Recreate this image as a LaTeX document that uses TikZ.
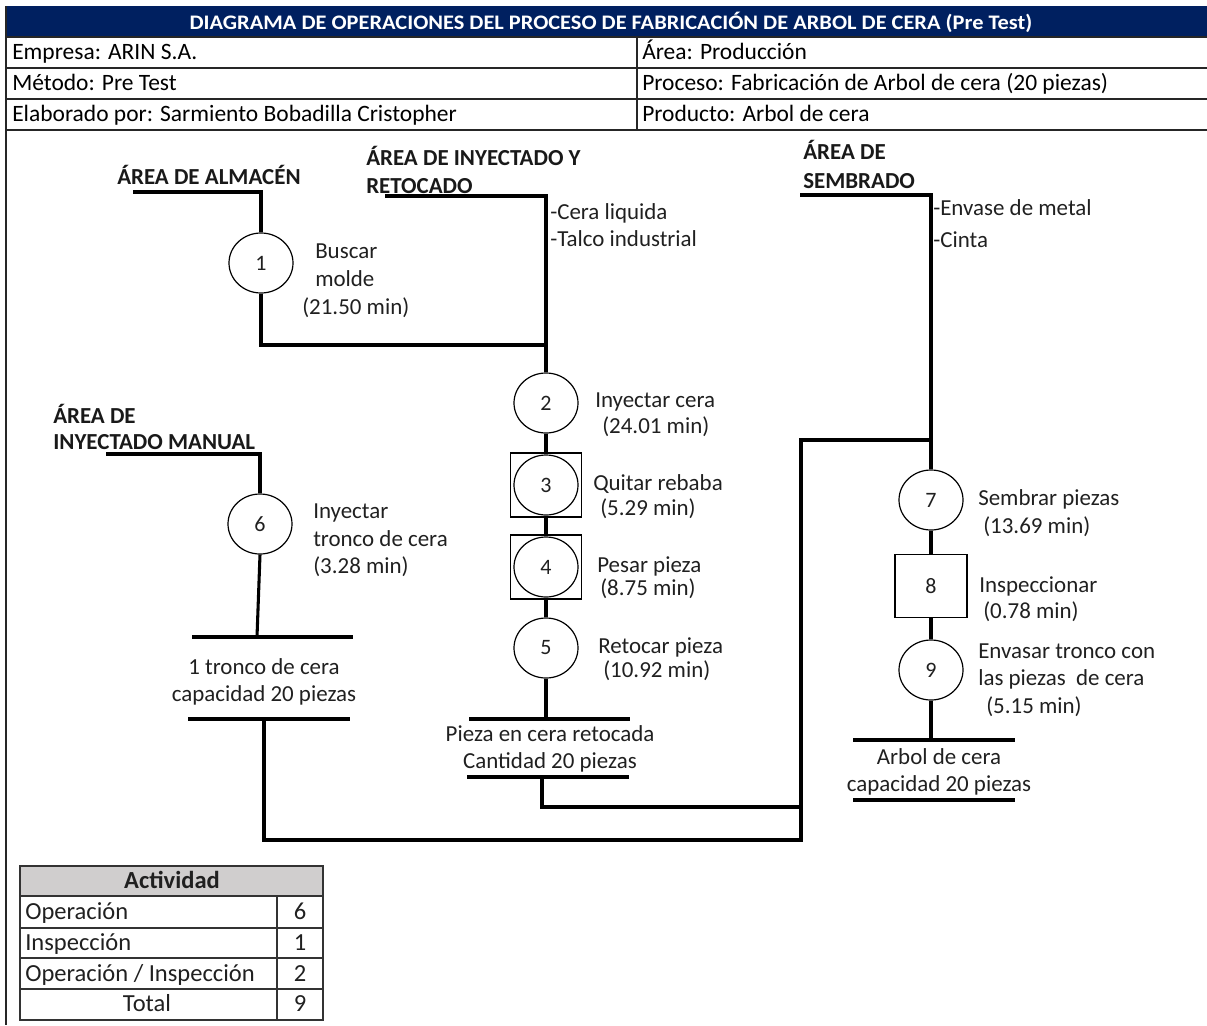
\documentclass[tikz,border=0pt]{standalone}
\usepackage{fontspec}
\usepackage{graphicx}
\setmainfont{Carlito}
\usetikzlibrary{shapes.geometric,calc}
\definecolor{navy}{HTML}{002060}
\definecolor{hdrgray}{HTML}{D0CECE}
\definecolor{txt}{HTML}{202020}
\begin{document}
\begin{tikzpicture}[x=0.75pt,y=-0.75pt,
  flow/.style={line width=2.3pt},
  grid/.style={line width=0.8pt,draw=black!85},
  tabline/.style={line width=1.1pt,draw=black!80},
  opnode/.style={ellipse,draw,line width=0.9pt,minimum width=48pt,minimum height=45pt,inner sep=0pt,fill=white,font=\fontsize{16.5}{19}\selectfont,text=txt},
  inspnode/.style={rectangle,draw,line width=0.9pt,minimum width=53.5pt,minimum height=48pt,inner sep=0pt,font=\fontsize{16.5}{19}\selectfont,text=txt},
  lbl/.style={anchor=west,inner sep=0pt,text height=12pt,text depth=2pt,font=\fontsize{17.2}{20}\selectfont,text=txt},
  clbl/.style={lbl,anchor=center},
  arealbl/.style={anchor=west,inner sep=0pt,text height=12pt,text depth=2pt,font=\bfseries\fontsize{17.2}{20}\selectfont,text=black!90},
  hdr/.style={anchor=west,inner sep=0pt,text height=12pt,text depth=2pt,font=\fontsize{17.6}{20}\selectfont,text=black},
  tab/.style={anchor=west,inner sep=0pt,text height=12pt,text depth=2pt,font=\fontsize{18.4}{20}\selectfont,text=txt},
  ctab/.style={tab,anchor=center}
]
\useasboundingbox (0,0) rectangle (1207,1025);

% ---------- header ----------
\fill[navy] (5,6) rectangle (1207,37);
\node[text=white,font=\bfseries\fontsize{15.5}{18}\selectfont,inner sep=0pt] (title) at (611,22)
  {\resizebox{632pt}{\height}{DIAGRAMA DE OPERACIONES DEL PROCESO DE FABRICACIÓN DE ARBOL DE CERA (Pre Test)}};
\foreach \yy in {37,68,99,130} \draw[grid] (5,\yy) -- (1207,\yy);
\draw[grid] (637,37) -- (637,130);
\draw[grid] (6,6) -- (6,1025);
\node[hdr] (emp) at (12,53) {Empresa: ARIN S.A.};
\node[hdr] (met) at (12,84) {Método: Pre Test};
\node[hdr] (ela) at (12,115) {Elaborado por: Sarmiento Bobadilla Cristopher};
\node[hdr] (are) at (642,53) {Área: Producción};
\node[hdr] (pro) at (642,84) {Proceso: Fabricación de Arbol de cera (20 piezas)};
\node[hdr] (prd) at (642,115) {Producto: Arbol de cera};

% ---------- area labels ----------
\node[arealbl] (alm) at (117,178) {ÁREA DE ALMACÉN};
\node[arealbl] (iny1) at (366,159) {ÁREA DE INYECTADO Y};
\node[arealbl] (iny2) at (366,187) {RETOCADO};
\node[arealbl] (man1) at (53,417) {ÁREA DE};
\node[arealbl] (man2) at (53,443) {INYECTADO MANUAL};
\node[arealbl] (sem1) at (803,153) {ÁREA DE};
\node[arealbl] (sem2) at (803,182) {SEMBRADO};

% ---------- symbols ----------
\node[opnode] (c1) at (261,263) {1};
\node[opnode] (c2) at (546,403) {2};
\node[inspnode] (b3) at (546,485) {};
\node[opnode] (c3) at (546,485) {3};
\node[inspnode] (b4) at (546,567) {};
\node[opnode] (c4) at (546,567) {4};
\node[opnode] (c5) at (546,648) {5};
\node[opnode] (c6) at (260,524) {6};
\node[opnode] (c7) at (931,500) {7};
\node[inspnode,minimum width=54pt,minimum height=47pt] (b8) at (931,586) {8};
\node[opnode] (c9) at (931,670) {9};

% ---------- coordinates ----------
\coordinate (almL) at (133,192);
\coordinate (almR) at (261,192);
\coordinate (c1d) at (261,345);
\coordinate (join) at (546,345);
\coordinate (inyL) at (385,196);
\coordinate (inyR) at (546,196);
\coordinate (pzTopL) at (469,719);
\coordinate (pzTopR) at (630,719);
\coordinate (pzTopM) at (546,719);
\coordinate (pzBotL) at (467,777);
\coordinate (pzBotR) at (629,777);
\coordinate (pzBotM) at (542,777);
\coordinate (pzDown) at (542,807);
\coordinate (colA) at (801,807);
\coordinate (manL) at (106,454);
\coordinate (manR) at (260,454);
\coordinate (trTopM) at (257,637);
\coordinate (trTopL) at (192,637);
\coordinate (trTopR) at (353,637);
\coordinate (trBotL) at (188,719);
\coordinate (trBotR) at (350,719);
\coordinate (trBotM) at (264,719);
\coordinate (trDown) at (264,840);
\coordinate (colB) at (801,840);
\coordinate (colT) at (801,440);
\coordinate (semJ) at (931,440);
\coordinate (semL) at (800,195);
\coordinate (semR) at (931,195);
\coordinate (arTopL) at (853,740);
\coordinate (arTopR) at (1015,740);
\coordinate (arTopM) at (931,740);
\coordinate (arBotL) at (853,800);
\coordinate (arBotR) at (1015,800);

% ---------- connectors ----------
\draw[flow] (almL) -- (almR) -- (c1.north);
\draw[flow] (c1.south) -- (c1d) -- (join);
\draw[flow] (inyL) -- (inyR) -- (c2.north);
\draw[flow] (c2.south) -- (b3.north);
\draw[flow] (b3.south) -- (b4.north);
\draw[flow] (b4.south) -- (c5.north);
\draw[flow] (c5.south) -- (pzTopM);
\draw[flow] (pzTopL) -- (pzTopR);
\draw[flow] (pzBotL) -- (pzBotR);
\draw[flow] (pzBotM) -- (pzDown) -- (colA);
\draw[flow] (manL) -- (manR) -- (c6.north);
\draw[flow] (c6.south) -- (trTopM);
\draw[flow] (trTopL) -- (trTopR);
\draw[flow] (trBotL) -- (trBotR);
\draw[flow] (trBotM) -- (trDown) -- (colB) -- (colT) -- (semJ);
\draw[flow] (semL) -- (semR) -- (c7.north);
\draw[flow] (c7.south) -- (b8.north);
\draw[flow] (b8.south) -- (c9.north);
\draw[flow] (c9.south) -- (arTopM);
\draw[flow] (arTopL) -- (arTopR);
\draw[flow] (arBotL) -- (arBotR);

% ---------- labels ----------
\node[lbl] (l1a) at (315,252) {Buscar};
\node[lbl] (l1b) at (315,280) {molde};
\node[lbl] (l1c) at (302,308) {(21.50 min)};
\node[lbl] (m1) at (550,213) {-Cera liquida};
\node[lbl] (m2) at (550,240) {-Talco industrial};
\node[lbl] (l2a) at (595,401) {Inyectar cera};
\node[lbl] (l2b) at (602,427) {(24.01 min)};
\node[lbl] (l3a) at (593,484) {Quitar rebaba};
\node[lbl] (l3b) at (600,509) {(5.29 min)};
\node[lbl] (l4a) at (597,566) {Pesar pieza};
\node[lbl] (l4b) at (600,589) {(8.75 min)};
\node[lbl] (l5a) at (598,647) {Retocar pieza};
\node[lbl] (l5b) at (603,671) {(10.92 min)};
\node[clbl] (pz1) at (550,735) {Pieza en cera retocada};
\node[clbl] (pz2) at (550,762) {Cantidad 20 piezas};
\node[lbl] (l6a) at (313,512) {Inyectar};
\node[lbl] (l6b) at (313,540) {tronco de cera};
\node[lbl] (l6c) at (313,567) {(3.28 min)};
\node[clbl] (tr1) at (264,668) {1 tronco de cera};
\node[clbl] (tr2) at (264,695) {capacidad 20 piezas};
\node[lbl] (m3) at (933,209) {-Envase de metal};
\node[lbl] (m4) at (933,241) {-Cinta};
\node[lbl] (l7a) at (978,499) {Sembrar piezas};
\node[lbl] (l7b) at (983,527) {(13.69 min)};
\node[lbl] (l8a) at (979,586) {Inspeccionar};
\node[lbl] (l8b) at (983,612) {(0.78 min)};
\node[lbl] (l9a) at (978,652) {Envasar tronco con};
\node[lbl] (l9b) at (978,679) {las piezas\ \ de cera};
\node[lbl] (l9c) at (986,707) {(5.15 min)};
\node[clbl] (ar1) at (939,758) {Arbol de cera};
\node[clbl] (ar2) at (939,785) {capacidad 20 piezas};

% ---------- activity table ----------
\fill[hdrgray] (20,866) rectangle (323,896);
\draw[tabline] (20,866) rectangle (323,1020);
\foreach \yy in {896,928,958,989} \draw[tabline] (20,\yy) -- (323,\yy);
\draw[tabline] (277,896) -- (277,1020);
\node[ctab,font=\bfseries\fontsize{18.4}{20}\selectfont] (act) at (172,882) {Actividad};
\node[tab] (t1) at (25,913) {Operación};
\node[ctab] (v1) at (300,913) {6};
\node[tab] (t2) at (25,944) {Inspección};
\node[ctab] (v2) at (300,944) {1};
\node[tab] (t3) at (25,975) {Operación / Inspección};
\node[ctab] (v3) at (300,975) {2};
\node[ctab] (t4) at (147,1005) {Total};
\node[ctab] (v4) at (300,1005) {9};
\end{tikzpicture}
\end{document}
